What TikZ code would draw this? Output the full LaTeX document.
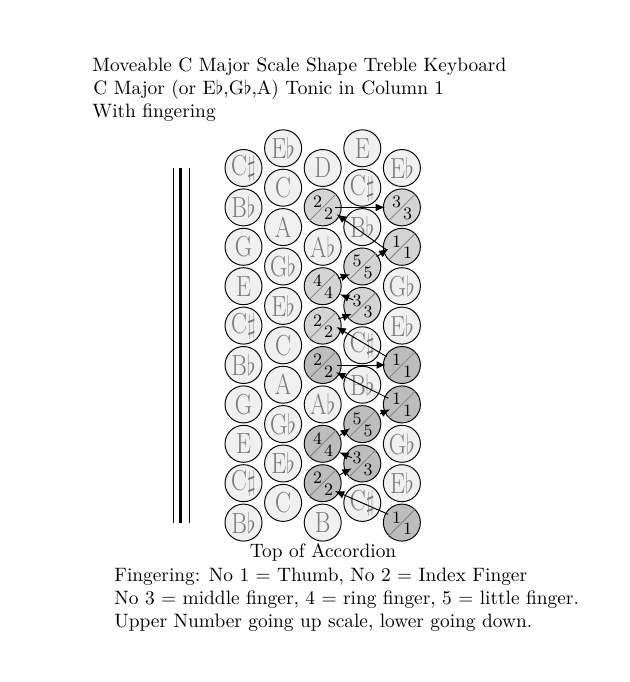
\documentclass[tikz,border=0pt]{standalone}
\usepackage{graphicx}
\usetikzlibrary{arrows.meta,calc}
\newcommand{\notelab}[1]{\fontsize{15}{18}\selectfont\scalebox{0.82}[1]{#1}}
\begin{document}
\begin{tikzpicture}[x=0.5163pt,y=-0.5163pt,
  key/.style={circle,draw=black,line width=0.5pt,fill=black!6,minimum size=19.1pt,inner sep=0pt},
  note/.style={key,text=black!52},
  fingU/.style={key,fill=black!17},
  fingL/.style={key,fill=black!26},
  num/.style={font=\small,inner sep=0pt},
  diag/.style={draw=black!50,line width=0.4pt},
  arr/.style={-{Latex[length=4.8pt,width=4pt]},line width=0.5pt},
  txt/.style={anchor=base west,inner sep=0pt},
  rail/.style={line width=0.5pt},
  thickrail/.style={line width=1.4pt}]
\useasboundingbox (0,0) rectangle (630,682);

% titles
\node[txt] (t1) at (92,71) {Moveable C Major Scale Shape Treble Keyboard};
\node[txt] (t2) at (93,94) {C Major (or E$\flat$,G$\flat$,A) Tonic in Column 1};
\node[txt] (t3) at (92,117) {With fingering};

% left rails
\draw[rail] (173.3,168) -- (173.3,523);
\draw[thickrail] (180.7,168) -- (180.7,523);
\draw[rail] (189.3,168) -- (189.3,523);

% column 1
\foreach \lab [count=\k from 0] in {C$\sharp$,B$\flat$,G,E,C$\sharp$,B$\flat$,G,E,C$\sharp$,B$\flat$}
  \node[note] (c1r\k) at (243.5,168+39.4*\k) {\notelab{\lab}};
% column 2
\foreach \lab [count=\k from 0] in {E$\flat$,C,A,G$\flat$,E$\flat$,C,A,G$\flat$,E$\flat$,C}
  \node[note] (c2r\k) at (283.1,148.3+39.4*\k) {\notelab{\lab}};
% column 3 notes
\node[note] (c3r0) at (322.7,168) {\notelab{D}};
\node[note] (c3r2) at (322.7,168+39.4*2) {\notelab{A$\flat$}};
\node[note] (c3r6) at (322.7,168+39.4*6) {\notelab{A$\flat$}};
\node[note] (c3r9) at (322.7,168+39.4*9) {\notelab{B}};
% column 4 notes
\node[note] (c4r0) at (362.3,148.3) {\notelab{E}};
\node[note] (c4r1) at (362.3,148.3+39.4) {\notelab{C$\sharp$}};
\node[note] (c4r2) at (362.3,148.3+39.4*2) {\notelab{B$\flat$}};
\node[note] (c4r5) at (362.3,148.3+39.4*5) {\notelab{C$\sharp$}};
\node[note] (c4r6) at (362.3,148.3+39.4*6) {\notelab{B$\flat$}};
\node[note] (c4r9) at (362.3,148.3+39.4*9) {\notelab{C$\sharp$}};
% column 5 notes
\node[note] (c5r0) at (401.9,168) {\notelab{E$\flat$}};
\node[note] (c5r3) at (401.9,168+39.4*3) {\notelab{G$\flat$}};
\node[note] (c5r4) at (401.9,168+39.4*4) {\notelab{E$\flat$}};
\node[note] (c5r7) at (401.9,168+39.4*7) {\notelab{G$\flat$}};
\node[note] (c5r8) at (401.9,168+39.4*8) {\notelab{E$\flat$}};

% fingered keys: name/x/y/style/number
\foreach \nm/\x/\y/\st/\f in {
  c3r1/322.7/207.4/fingU/2, c3r3/322.7/286.2/fingU/4, c3r4/322.7/325.6/fingU/2,
  c3r5/322.7/365.0/fingL/2, c3r7/322.7/443.8/fingL/4, c3r8/322.7/483.2/fingL/2,
  c4r3/362.3/266.5/fingU/5, c4r4/362.3/305.9/fingU/3,
  c4r7/362.3/424.1/fingL/5, c4r8/362.3/463.5/fingL/3,
  c5r1/401.9/207.4/fingU/3, c5r2/401.9/246.8/fingU/1,
  c5r5/401.9/365.0/fingL/1, c5r6/401.9/404.4/fingL/1, c5r9/401.9/522.6/fingL/1}
{
  \node[\st] (\nm) at (\x,\y) {};
  \draw[diag] (\nm.225) -- (\nm.45);
  \node[num] (\nm u) at ($(\nm.center)+(-5.2,-5.4)$) {\f};
  \node[num] (\nm l) at ($(\nm.center)+(5.8,6.3)$) {\f};
}

% fingering arrows
\draw[arr] ($(c5r9.center)+(-13.6,-8.3)$) -- ($(c3r8.center)+(12.3,7.8)$);
\draw[arr] ($(c3r8.center)+(16.6,-8.2)$) -- ($(c4r8.center)+(-10.6,4.8)$);
\draw[arr] ($(c4r8.center)+(-10.6,-5.8)$) -- ($(c3r7.center)+(16.6,8.5)$);
\draw[arr] ($(c3r7.center)+(16.6,-8.1)$) -- ($(c4r7.center)+(-12.3,4.2)$);
\draw[arr] ($(c4r7.center)+(17.7,-10.1)$) -- ($(c5r6.center)+(-11.9,4.9)$);
\draw[arr] ($(c5r6.center)+(-13.6,-6.1)$) -- ($(c3r5.center)+(13.3,7.3)$);
\draw[arr] ($(c3r5.center)+(14,0)$) -- ($(c5r5.center)+(-16,0)$);
\draw[arr] ($(c5r5.center)+(-15.2,-8.3)$) -- ($(c3r4.center)+(13.8,1.4)$);
\draw[arr] ($(c3r4.center)+(15.6,-6.6)$) -- ($(c4r4.center)+(-10.6,8.1)$);
\draw[arr] ($(c4r4.center)+(-9,-5.9)$) -- ($(c3r3.center)+(17.3,8.1)$);
\draw[arr] ($(c3r3.center)+(15.6,-7.9)$) -- ($(c4r3.center)+(-12.3,7.8)$);
\draw[arr] ($(c4r3.center)+(14.4,-9.8)$) -- ($(c5r2.center)+(-13.6,2)$);
\draw[arr] ($(c5r2.center)+(-15.2,3.2)$) -- ($(c3r1.center)+(14,6.9)$);
\draw[arr] ($(c3r1.center)+(12.3,0)$) -- ($(c5r1.center)+(-16.9,0)$);

% bottom texts
\node[anchor=base,inner sep=0pt] (top) at (323,557) {Top of Accordion};
\node[txt] (f1) at (114,581) {Fingering: No 1 $=$ Thumb, No 2 $=$ Index Finger};
\node[txt] (f2) at (114,604) {No 3 $=$ middle finger, 4 $=$ ring finger, 5 $=$ little finger.};
\node[txt] (f3) at (114,627) {Upper Number going up scale, lower going down.};
\end{tikzpicture}
\end{document}
